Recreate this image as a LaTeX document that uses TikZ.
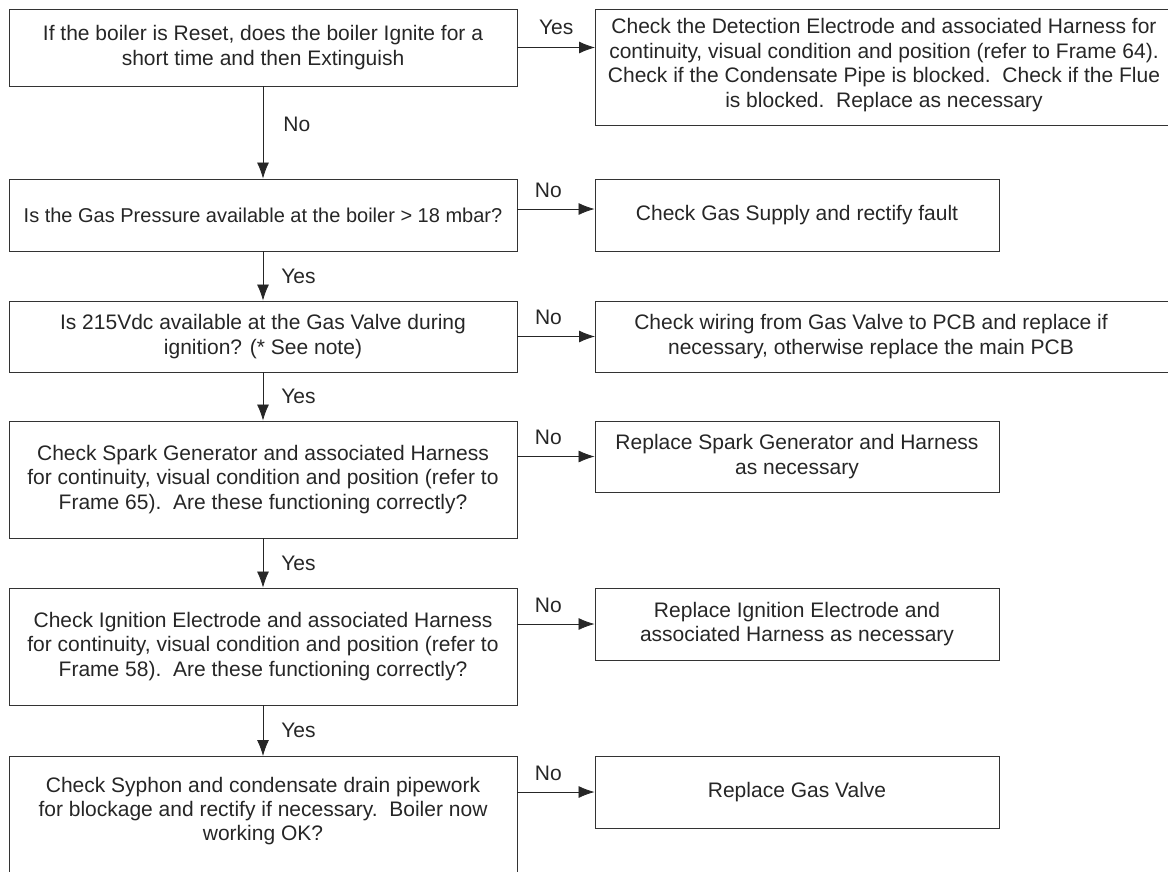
\documentclass[tikz,border=0pt]{standalone}
\usepackage{fontspec}
\setmainfont{Liberation Sans}
\usetikzlibrary{arrows.meta}

\tikzset{
  box/.style={draw=black!80, line width=0.9pt, inner sep=0pt, align=center},
  txt/.style={inner sep=0pt, align=center},
  arr/.style={-{Latex[length=16pt,width=12pt]}, line width=0.8pt, black!85},
  lbl/.style={inner sep=0pt, text=black!85}
}

\begin{document}
\begin{tikzpicture}[x=1pt, y=1pt, text=black!85,
  font=\fontsize{21pt}{24.4pt}\selectfont]

\useasboundingbox (0,0) rectangle (1168,-871);
\clip (0,0) rectangle (1168,-871);

% Question 1
\node[box, minimum width=508pt, minimum height=77pt] (q1) at (263,-47.5)
{If the boiler is Reset, does the boiler Ignite for a\\short time and then Extinguish};

\node[box, minimum width=600pt, minimum height=116pt, anchor=west] (r1) at (595,-67) {};
\node[txt] at (884,-65)
{Check the Detection Electrode and associated Harness for\\continuity, visual condition and position (refer to Frame 64).\\Check if the Condensate Pipe is blocked.\ \ Check if the Flue\\is blocked.\ \ Replace as necessary};

% Question 2
\node[box, minimum width=508pt, minimum height=72pt,
  font=\fontsize{20pt}{24.4pt}\selectfont] (q2) at (263,-215)
{Is the Gas Pressure available at the boiler > 18 mbar?};

\node[box, minimum width=404pt, minimum height=72pt] (r2) at (797,-215)
{Check Gas Supply and rectify fault};

% Question 3
\node[box, minimum width=508pt, minimum height=71pt] (q3) at (263,-336.5)
{Is 215Vdc available at the Gas Valve during\\ignition? (* See note)};

\node[box, minimum width=600pt, minimum height=71pt, anchor=west] (r3) at (595,-336.5) {};
\node[txt] at (871,-336.5)
{Check wiring from Gas Valve to PCB and replace if\\necessary, otherwise replace the main PCB};

% Question 4
\node[box, minimum width=508pt, minimum height=117pt] (q4) at (263,-479.5)
{Check Spark Generator and associated Harness\\for continuity, visual condition and position (refer to\\Frame 65).\ \ Are these functioning correctly?};

\node[box, minimum width=404pt, minimum height=71pt] (r4) at (797,-456.5)
{Replace Spark Generator and Harness\\as necessary};

% Question 5
\node[box, minimum width=508pt, minimum height=117pt] (q5) at (263,-646.5)
{Check Ignition Electrode and associated Harness\\for continuity, visual condition and position (refer to\\Frame 58).\ \ Are these functioning correctly?};

\node[box, minimum width=404pt, minimum height=72pt] (r5) at (797,-624)
{Replace Ignition Electrode and\\associated Harness as necessary};

% Question 6
\node[box, minimum width=508pt, minimum height=124pt, anchor=north] (q6) at (263,-756) {};
\node[txt] at (263,-811)
{Check Syphon and condensate drain pipework\\for blockage and rectify if necessary.\ \ Boiler now\\working OK?};

\node[box, minimum width=404pt, minimum height=72pt] (r6) at (797,-792)
{Replace Gas Valve};

% Fleches Yes / No
\draw[arr] (q1.east) -- (q1.east -| r1.west)
  node[lbl, midway, anchor=base, yshift=13pt] {Yes};
\draw[arr] ([yshift=6pt]q2.east) -- ([yshift=6pt]r2.west)
  node[lbl, pos=0.4, anchor=base, yshift=12pt] {No};
\draw[arr] (q3.east) -- (q3.east -| r3.west)
  node[lbl, pos=0.4, anchor=base, yshift=12pt] {No};
\draw[arr] (q4.east |- r4.west) -- (r4.west)
  node[lbl, pos=0.4, anchor=base, yshift=12pt] {No};
\draw[arr] (q5.east |- r5.west) -- (r5.west)
  node[lbl, pos=0.4, anchor=base, yshift=12pt] {No};
\draw[arr] (q6.east |- r6.west) -- (r6.west)
  node[lbl, pos=0.4, anchor=base, yshift=12pt] {No};

\draw[arr] (q1.south) -- (q2.north) node[lbl, midway, right=20pt, yshift=8pt] {No};
\draw[arr] (q2.south) -- (q3.north) node[lbl, midway, right=18pt] {Yes};
\draw[arr] (q3.south) -- (q4.north) node[lbl, midway, right=18pt] {Yes};
\draw[arr] (q4.south) -- (q5.north) node[lbl, midway, right=18pt] {Yes};
\draw[arr] (q5.south) -- (q6.north) node[lbl, midway, right=18pt] {Yes};

\end{tikzpicture}
\end{document}
